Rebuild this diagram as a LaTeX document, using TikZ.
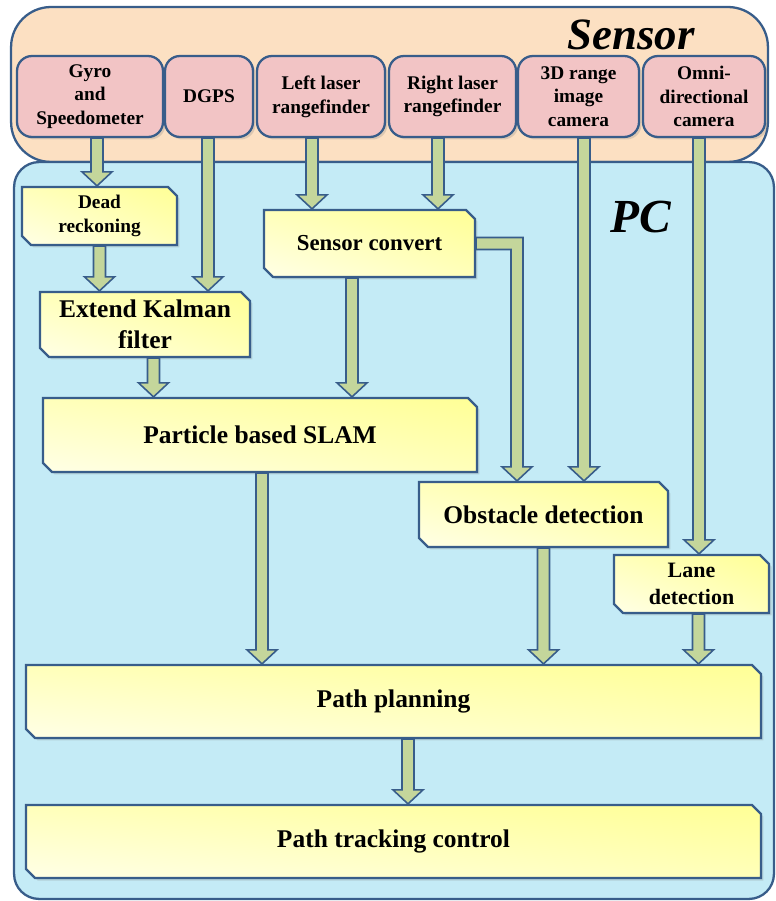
\documentclass[tikz,border=0pt]{standalone}
\usepackage{fontspec}
\setmainfont{Liberation Serif}
\usepackage{tikz}
\usetikzlibrary{calc,shapes.misc,shadows,shadings}
\definecolor{lineblue}{RGB}{56,93,138}
\definecolor{sensorbg}{RGB}{252,224,194}
\definecolor{pcbg}{RGB}{196,235,246}
\definecolor{sensorpink}{RGB}{242,196,197}
\definecolor{arrowgreen}{RGB}{196,214,155}
\definecolor{boxyellow}{RGB}{255,255,150}
\definecolor{boxcream}{RGB}{255,255,230}

\begin{document}
\begin{tikzpicture}[x=0.02cm,y=-0.02cm,
  hw/.style={draw=lineblue, line width=1.3pt, fill=sensorpink, rounded corners=0.3cm,
    inner sep=0pt, align=center, minimum height=1.62cm,
    font=\bfseries\fontsize{11}{13.5}\selectfont,
    drop shadow={opacity=0.25,shadow xshift=0.05cm,shadow yshift=-0.05cm}},
  sw/.style={draw=lineblue, line width=1.3pt, chamfered rectangle,
    chamfered rectangle corners={north east,south west},
    chamfered rectangle xsep=0.09cm, chamfered rectangle ysep=0.09cm,
    upper right=boxyellow, lower left=boxcream,
    upper left=boxyellow!55!boxcream, lower right=boxyellow!55!boxcream,
    inner sep=0pt, align=center,
    drop shadow={opacity=0.25,shadow xshift=0.05cm,shadow yshift=-0.05cm}},
  big/.style={font=\bfseries\fontsize{14.5}{17.6}\selectfont},
  fat/.style={draw=lineblue, line width=0.9pt, fill=arrowgreen,
    to path={let \p1=(\tikztostart), \p2=(\tikztotarget) in
      (\x1-0.12cm,\y1) -- (\x1-0.12cm,\y2+0.28cm) -- (\x1-0.3cm,\y2+0.28cm)
      -- (\x1,\y2) -- (\x1+0.3cm,\y2+0.28cm) -- (\x1+0.12cm,\y2+0.28cm)
      -- (\x1+0.12cm,\y1) -- cycle}},
  fatbent/.style={draw=lineblue, line width=0.9pt, fill=arrowgreen,
    to path={let \p1=(\tikztostart), \p2=(\tikztotarget) in
      (\x1,\y1+0.12cm) -- (\x2+0.12cm,\y1+0.12cm) -- (\x2+0.12cm,\y2+0.28cm)
      -- (\x2+0.3cm,\y2+0.28cm) -- (\x2,\y2) -- (\x2-0.3cm,\y2+0.28cm)
      -- (\x2-0.12cm,\y2+0.28cm) -- (\x2-0.12cm,\y1-0.12cm) -- (\x1,\y1-0.12cm) -- cycle}}]
\useasboundingbox (0,0) rectangle (775,901);

% Sensor and PC frames
\node[draw=lineblue, line width=1.3pt, fill=sensorbg, rounded corners=0.8cm,
  minimum width=15.14cm, minimum height=3.1cm] (sensor) at (389.5,84.5) {};
\node[draw=lineblue, line width=1.3pt, fill=pcbg, rounded corners=0.5cm,
  minimum width=15.2cm, minimum height=14.74cm] (pc) at (394,530.5) {};
\node[anchor=base, font=\bfseries\itshape\fontsize{25.5}{30}\selectfont] (sensortitle) at (631,50) {Sensor};
\node[anchor=base, font=\bfseries\itshape\fontsize{27}{32}\selectfont] (pctitle) at (641,233) {PC};

% sensors
\node[hw, minimum width=2.92cm] (gyro) at (90,96.5) {Gyro\\and\\Speedometer};
\node[hw, minimum width=1.76cm] (dgps) at (209,96.5) {DGPS};
\node[hw, minimum width=2.56cm] (lleft) at (321,96.5) {Left laser\\rangefinder};
\node[hw, minimum width=2.54cm] (lright) at (452.5,96.5) {Right laser\\rangefinder};
\node[hw, minimum width=2.42cm] (cam3d) at (578.5,96.5) {3D range\\image\\camera};
\node[hw, minimum width=2.44cm] (omni) at (704,96.5) {Omni-\\directional\\camera};

% processing on the PC
\node[sw, minimum width=3.1cm, minimum height=1.16cm, font=\bfseries\fontsize{11}{14}\selectfont]
  (dead) at (99.5,216) {Dead\\reckoning};
\node[sw, big, minimum width=4.2cm, minimum height=1.3cm] (ekf) at (145,324.5) {Extend Kalman\\filter};
\node[sw, minimum width=4.22cm, minimum height=1.34cm, font=\bfseries\fontsize{13}{16}\selectfont]
  (sconv) at (369.5,243.5) {Sensor convert};
\node[sw, big, minimum width=8.68cm, minimum height=1.48cm] (slam) at (260,435) {Particle based SLAM};
\node[sw, big, minimum width=4.98cm, minimum height=1.3cm] (obst) at (543.5,514.5) {Obstacle detection};
\node[sw, minimum width=3.1cm, minimum height=1.16cm, font=\bfseries\fontsize{12.5}{15}\selectfont]
  (lane) at (691.5,584) {Lane\\detection};
\node[sw, big, minimum width=14.7cm, minimum height=1.46cm] (plan) at (393.5,701.5) {Path planning};
\node[sw, big, minimum width=14.7cm, minimum height=1.46cm] (track) at (393.5,841.5) {Path tracking control};

% data flow
\draw[fat] ([xshift=0.14cm]gyro.south) to (dead.north);
\draw[fat] ([xshift=-0.02cm]dgps.south) to (ekf.north);
\draw[fat] (dead.south) to (ekf.north);
\draw[fat] ([xshift=-0.18cm]lleft.south) to (sconv.north);
\draw[fat] ([xshift=-0.29cm]lright.south) to (sconv.north);
\draw[fat] ([xshift=0.17cm]ekf.south) to (slam.north);
\draw[fat] ([xshift=-0.35cm]sconv.south) to (slam.north);
\draw[fatbent] (sconv.east) to ([xshift=-0.53cm]obst.north);
\draw[fat] ([xshift=0.11cm]cam3d.south) to (obst.north);
\draw[fat] ([xshift=-0.1cm]omni.south) to (lane.north);
\draw[fat] ([xshift=0.04cm]slam.south) to (plan.north);
\draw[fat] (obst.south) to (plan.north);
\draw[fat] ([xshift=0.14cm]lane.south) to (plan.north);
\draw[fat] ([xshift=0.29cm]plan.south) to (track.north);
\end{tikzpicture}
\end{document}
